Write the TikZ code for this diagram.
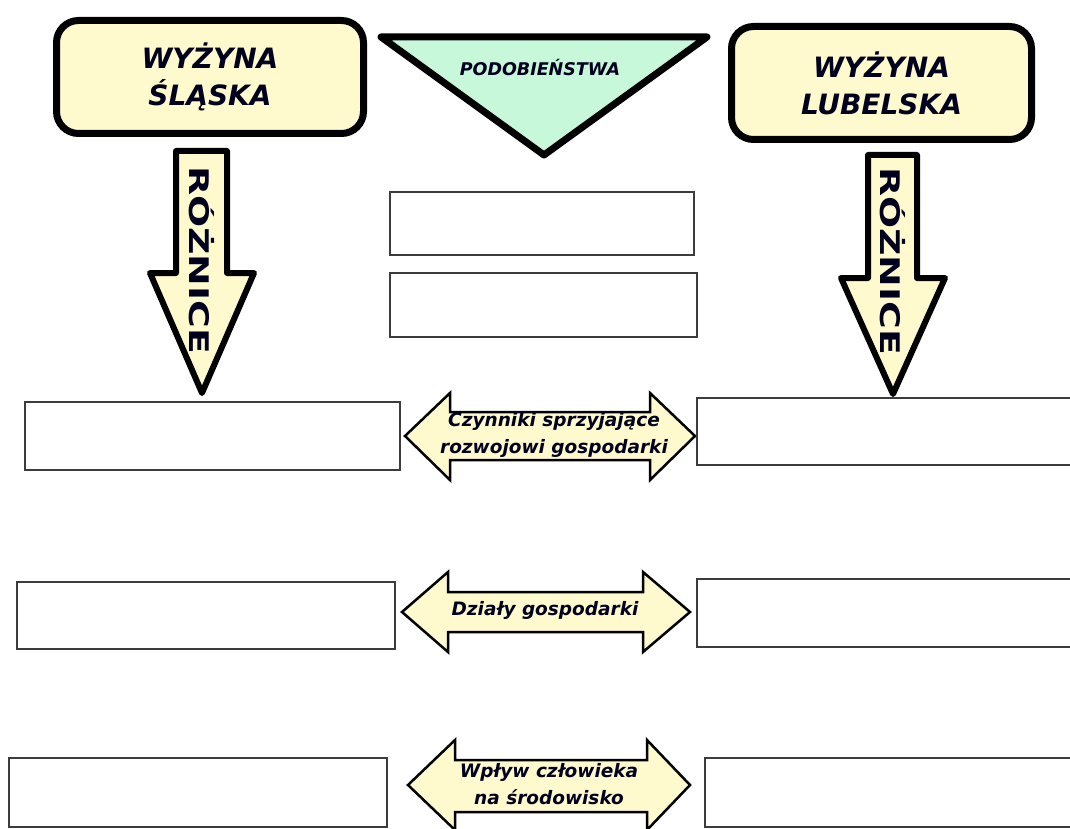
\documentclass[tikz,border=0pt]{standalone}
\usepackage{fontspec}
\setmainfont{DejaVu Sans}
\usepackage{tikz}

\definecolor{pale}{RGB}{255,250,205}
\definecolor{mint}{RGB}{200,248,218}
\definecolor{ink}{RGB}{0,0,30}
\definecolor{rim}{RGB}{60,60,60}

\tikzset{
    title/.style = {draw, line width=7pt, fill=pale, rounded corners=22pt, minimum height=113pt, align=center, text=ink, font=\fontsize{28}{37}\selectfont\bfseries\itshape},
    blank/.style = {draw=rim, line width=1.5pt, inner sep=0pt},
    dblarrow/.style = {draw, line width=2.5pt, fill=pale, line join=miter},
    downarrow/.style = {draw, line width=6pt, fill=pale, line join=round},
    tag/.style = {text=ink, align=center, font=\fontsize{18.5}{27}\selectfont\bfseries\itshape},
    rot/.style = {text=ink, rotate=-90, xscale=1.4, font=\fontsize{27}{30}\selectfont\bfseries}
}

\begin{document}
\begin{tikzpicture}[x=1pt, y=-1pt]
    \useasboundingbox (0,0) rectangle (1070,829);
    \clip (0,0) rectangle (1070,829);

    % naglowki
    \node[title, minimum width=307pt] (slaska) at (210,77) {WYŻYNA\\ŚLĄSKA};
    \node[title, minimum width=300pt] (lubelska) at (881.5,83) {WYŻYNA\\LUBELSKA};

    \draw[line width=7pt, fill=mint, line join=round] (381,37) -- (707,37) -- (544,155) -- cycle;
    \node[text=ink, font=\fontsize{17.5}{20}\selectfont\bfseries\itshape] (podob) at (540,68) {PODOBIEŃSTWA};

    % strzalki w dol
    \draw[downarrow] (176,151) -- (227,151) -- (227,273) -- (254,273) -- (202,393) -- (150,273) -- (176,273) -- cycle;
    \node[rot] (roznL) at (202,260) {RÓŻNICE};
    \draw[downarrow] (868,155) -- (917,155) -- (917,278) -- (945,278) -- (893,394) -- (841,278) -- (868,278) -- cycle;
    \node[rot] (roznR) at (893,261) {RÓŻNICE};

    % podobienstwa
    \node[blank, minimum width=304pt, minimum height=63pt] (pd1) at (542,223.5) {};
    \node[blank, minimum width=307pt, minimum height=64pt] (pd2) at (543.5,305) {};

    % strzalki podwojne
    \draw[dblarrow] (405,436) -- (450,393) -- (450,412) -- (650,412) -- (650,393) -- (695,436) -- (650,480) -- (650,460) -- (450,460) -- (450,480) -- cycle;
    \node[tag] (czynniki) at (554,435) {Czynniki sprzyjające\\rozwojowi gospodarki};
    \draw[dblarrow] (402,612) -- (448,572) -- (448,592) -- (643,592) -- (643,572) -- (690,612) -- (643,652) -- (643,632) -- (448,632) -- (448,652) -- cycle;
    \node[tag] (dzialy) at (545,610) {Działy gospodarki};
    \draw[dblarrow] (408,785) -- (455,740) -- (455,760) -- (647,760) -- (647,740) -- (690,785) -- (647,830) -- (647,812) -- (455,812) -- (455,830) -- cycle;
    \node[tag] (wplyw) at (549,784) {Wpływ człowieka\\na środowisko};

    % pola do uzupelnienia
    \node[blank, minimum width=375pt, minimum height=68pt] (sl1) at (212.5,436) {};
    \node[blank, minimum width=378pt, minimum height=67pt] (sl2) at (206,615.5) {};
    \node[blank, minimum width=378pt, minimum height=69pt] (sl3) at (198,792.5) {};
    \node[blank, minimum width=383pt, minimum height=67pt] (lu1) at (888.5,431.5) {};
    \node[blank, minimum width=383pt, minimum height=68pt] (lu2) at (888.5,613) {};
    \node[blank, minimum width=375pt, minimum height=69pt] (lu3) at (892.5,792.5) {};
\end{tikzpicture}
\end{document}
